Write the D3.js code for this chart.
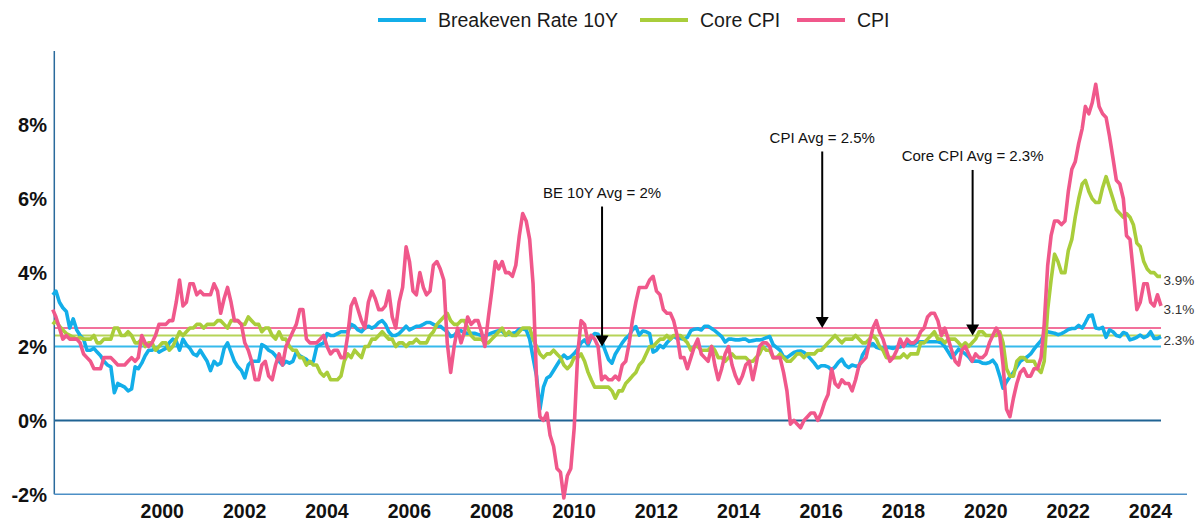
<!DOCTYPE html>
<html>
<head>
<meta charset="utf-8">
<script src="https://cdn.jsdelivr.net/npm/d3@7"></script>
<style>
body { margin: 0; background: #fff; }
svg text { font-family: "Liberation Sans", Arial, sans-serif; }
</style>
</head>
<body>
<div id="chart"></div>
<script>
var width = 1195, height = 520;

// monthly values, Feb 1997 .. Jan 2024 (% y/y)
var firstMonth = new Date(1997, 1, 1);

var beRate = [
  3.4, 3.5, 3.2, 3.05, 2.95, 2.5, 2.75, 2.45, 2.3, 2.2, 1.9,            // 1997
  1.9, 1.95, 1.85, 1.75, 1.6, 1.5, 1.45, 0.75, 1.0, 0.95, 0.9, 0.8,     // 1998
  0.85, 1.45, 1.4, 1.55, 1.75, 1.9, 1.9, 1.95, 1.85, 1.9, 1.95, 2.1,    // 1999
  2.2, 2.15, 1.9, 2.2, 2.05, 1.95, 1.8, 1.75, 1.9, 1.75, 1.6, 1.35,     // 2000
  1.6, 1.5, 1.55, 1.95, 2.1, 1.85, 1.6, 1.45, 1.35, 1.15, 1.5, 1.6,     // 2001
  1.6, 1.6, 2.05, 2.0, 1.9, 1.85, 1.75, 1.6, 1.5, 1.6, 1.55, 1.6,       // 2002
  1.85, 1.75, 1.7, 1.65, 1.55, 1.6, 2.0, 2.05, 2.1, 2.35, 2.3, 2.3,     // 2003
  2.35, 2.4, 2.4, 2.4, 2.6, 2.55, 2.45, 2.4, 2.5, 2.55, 2.5, 2.55,      // 2004
  2.65, 2.7, 2.6, 2.4, 2.3, 2.3, 2.35, 2.45, 2.55, 2.45, 2.5, 2.55,     // 2005
  2.55, 2.6, 2.65, 2.65, 2.6, 2.55, 2.55, 2.47, 2.4, 2.27, 2.3, 2.4,    // 2006
  2.43, 2.37, 2.36, 2.36, 2.36, 2.33, 2.3, 2.27, 2.33, 2.37, 2.4, 2.43, // 2007
  2.42, 2.31, 2.35, 2.36, 2.38, 2.47, 2.48, 2.45, 2.2, 1.7, 1.2, 0.3,   // 2008
  0.9, 1.15, 1.2, 1.35, 1.5, 1.65, 1.77, 1.68, 1.72, 1.81, 1.93, 2.1,   // 2009
  2.18, 2.04, 2.25, 2.35, 2.33, 2.15, 1.9, 1.65, 1.55, 1.8, 1.95, 2.1,  // 2010
  2.22, 2.3, 2.45, 2.54, 2.31, 2.42, 2.4, 2.35, 1.85, 1.9, 2.03, 1.97,  // 2011
  2.1, 2.2, 2.28, 2.22, 2.22, 2.2, 2.25, 2.43, 2.47, 2.48, 2.45, 2.55,  // 2012
  2.55, 2.49, 2.43, 2.35, 2.27, 2.12, 2.2, 2.2, 2.18, 2.18, 2.2, 2.2,   // 2013
  2.14, 2.16, 2.18, 2.18, 2.2, 2.24, 2.27, 2.05, 1.97, 1.9, 1.72, 1.7,  // 2014
  1.77, 1.84, 1.87, 1.88, 1.84, 1.76, 1.66, 1.55, 1.42, 1.48, 1.48, 1.45, // 2015
  1.37, 1.45, 1.57, 1.66, 1.5, 1.43, 1.5, 1.47, 1.47, 1.77, 1.92, 2.03, // 2016
  2.08, 1.98, 1.95, 1.95, 1.98, 1.97, 1.95, 1.98, 1.99, 2.03, 2.08, 2.06, // 2017
  2.06, 2.12, 2.13, 2.13, 2.13, 2.13, 2.13, 2.13, 2.1, 2.0, 1.85, 1.7,  // 2018
  1.8, 1.93, 1.87, 1.8, 1.72, 1.6, 1.61, 1.6, 1.55, 1.54, 1.57, 1.63,   // 2019
  1.5, 1.2, 0.87, 1.05, 1.18, 1.3, 1.45, 1.6, 1.66, 1.72, 1.8, 1.93,    // 2020
  2.05, 2.16, 2.33, 2.4, 2.38, 2.36, 2.32, 2.35, 2.4, 2.46, 2.49, 2.49, // 2021
  2.57, 2.5, 2.65, 2.83, 2.85, 2.5, 2.48, 2.52, 2.25, 2.45, 2.4, 2.3,   // 2022
  2.27, 2.38, 2.35, 2.18, 2.21, 2.25, 2.31, 2.24, 2.28, 2.4, 2.22, 2.22, // 2023
  2.27                                                                  // 2024
];

var coreCpi = [
  2.6, 2.7, 2.55, 2.45, 2.35, 2.3, 2.25, 2.2, 2.25, 2.2, 2.2,           // 1997
  2.2, 2.3, 2.1, 2.1, 2.2, 2.2, 2.2, 2.5, 2.5, 2.3, 2.3, 2.4,           // 1998
  2.3, 2.1, 2.1, 2.2, 2.0, 2.1, 2.1, 1.9, 2.0, 2.1, 2.1, 1.9,           // 1999
  2.0, 2.2, 2.4, 2.3, 2.4, 2.5, 2.5, 2.6, 2.6, 2.5, 2.6, 2.6,           // 2000
  2.6, 2.7, 2.7, 2.6, 2.5, 2.7, 2.7, 2.7, 2.6, 2.6, 2.8, 2.7,           // 2001
  2.6, 2.6, 2.4, 2.5, 2.5, 2.3, 2.2, 2.4, 2.2, 2.2, 2.0, 1.9,           // 2002
  1.9, 1.7, 1.7, 1.5, 1.6, 1.5, 1.5, 1.3, 1.2, 1.3, 1.1, 1.1,           // 2003
  1.1, 1.2, 1.6, 1.8, 1.7, 1.9, 1.8, 1.7, 2.0, 2.0, 2.2, 2.2,           // 2004
  2.3, 2.4, 2.3, 2.2, 2.2, 2.0, 2.1, 2.1, 2.0, 2.1, 2.1, 2.2,           // 2005
  2.1, 2.1, 2.1, 2.3, 2.4, 2.6, 2.7, 2.8, 2.9, 2.7, 2.6, 2.6,           // 2006
  2.7, 2.7, 2.5, 2.3, 2.2, 2.2, 2.2, 2.1, 2.1, 2.2, 2.3, 2.4,           // 2007
  2.5, 2.3, 2.4, 2.3, 2.3, 2.4, 2.5, 2.5, 2.5, 2.2, 2.0, 1.8,           // 2008
  1.7, 1.8, 1.8, 1.9, 1.8, 1.7, 1.5, 1.4, 1.5, 1.7, 1.7, 1.8,           // 2009
  1.6, 1.3, 1.1, 0.9, 0.9, 0.9, 0.9, 0.9, 0.8, 0.6, 0.8, 0.8,           // 2010
  1.0, 1.1, 1.2, 1.3, 1.5, 1.6, 1.8, 2.0, 2.0, 2.1, 2.2, 2.2,           // 2011
  2.3, 2.2, 2.3, 2.3, 2.3, 2.2, 2.1, 1.9, 2.0, 2.0, 1.9, 1.9,           // 2012
  1.9, 2.0, 1.9, 1.7, 1.7, 1.6, 1.7, 1.8, 1.7, 1.7, 1.7, 1.7,           // 2013
  1.6, 1.6, 1.7, 1.8, 2.0, 1.9, 1.9, 1.7, 1.7, 1.8, 1.7, 1.6,           // 2014
  1.6, 1.7, 1.8, 1.8, 1.7, 1.8, 1.8, 1.8, 1.9, 1.9, 2.0, 2.1,           // 2015
  2.2, 2.3, 2.2, 2.1, 2.2, 2.2, 2.2, 2.3, 2.2, 2.1, 2.1, 2.2,           // 2016
  2.3, 2.2, 2.0, 1.9, 1.7, 1.7, 1.7, 1.7, 1.7, 1.8, 1.7, 1.8,           // 2017
  1.8, 1.8, 2.1, 2.1, 2.2, 2.3, 2.4, 2.2, 2.2, 2.1, 2.2, 2.2,           // 2018
  2.2, 2.1, 2.0, 2.1, 2.0, 2.1, 2.2, 2.4, 2.4, 2.3, 2.3, 2.3,           // 2019
  2.3, 2.4, 2.1, 1.4, 1.2, 1.2, 1.6, 1.7, 1.7, 1.6, 1.6, 1.6,           // 2020
  1.4, 1.3, 1.6, 3.0, 3.8, 4.5, 4.3, 4.0, 4.0, 4.6, 4.9, 5.5,           // 2021
  6.0, 6.4, 6.5, 6.2, 6.0, 5.9, 5.9, 6.3, 6.6, 6.3, 6.0, 5.7,           // 2022
  5.6, 5.5, 5.6, 5.5, 5.3, 4.8, 4.7, 4.3, 4.1, 4.0, 4.0, 3.9,           // 2023
  3.9                                                                   // 2024
];

var cpi = [
  3.0, 2.8, 2.5, 2.2, 2.3, 2.2, 2.2, 2.2, 2.1, 1.8, 1.7,                // 1997
  1.6, 1.4, 1.4, 1.4, 1.7, 1.7, 1.7, 1.6, 1.5, 1.5, 1.5, 1.6,           // 1998
  1.7, 1.6, 1.7, 2.3, 2.1, 2.0, 2.1, 2.3, 2.6, 2.6, 2.6, 2.7,           // 1999
  2.7, 3.2, 3.8, 3.1, 3.2, 3.7, 3.7, 3.4, 3.5, 3.4, 3.4, 3.4,           // 2000
  3.7, 3.5, 2.9, 3.3, 3.6, 3.2, 2.7, 2.7, 2.6, 2.1, 1.9, 1.6,           // 2001
  1.1, 1.1, 1.5, 1.6, 1.2, 1.1, 1.5, 1.8, 1.5, 2.0, 2.2, 2.4,           // 2002
  2.6, 3.0, 3.0, 2.2, 2.1, 2.1, 2.1, 2.2, 2.3, 2.0, 1.8, 1.9,           // 2003
  1.9, 1.7, 1.7, 2.3, 3.1, 3.3, 3.0, 2.7, 2.5, 3.2, 3.5, 3.3,           // 2004
  3.0, 3.0, 3.1, 3.5, 2.8, 2.5, 3.2, 3.6, 4.7, 4.3, 3.5, 3.4,           // 2005
  4.0, 3.6, 3.4, 3.5, 4.2, 4.3, 4.1, 3.8, 2.1, 1.3, 2.0, 2.5,           // 2006
  2.1, 2.4, 2.8, 2.6, 2.7, 2.7, 2.4, 2.0, 2.8, 3.5, 4.3, 4.1,           // 2007
  4.3, 4.0, 4.0, 3.9, 4.2, 5.0, 5.6, 5.4, 4.9, 3.7, 1.1, 0.1,           // 2008
  0.0, 0.2, -0.4, -0.7, -1.3, -1.4, -2.1, -1.5, -1.3, -0.2, 1.8, 2.7,   // 2009
  2.6, 2.1, 2.3, 2.2, 2.0, 1.1, 1.2, 1.1, 1.1, 1.2, 1.1, 1.5,           // 2010
  1.6, 2.1, 2.7, 3.2, 3.6, 3.6, 3.6, 3.8, 3.9, 3.5, 3.4, 3.0,           // 2011
  2.9, 2.9, 2.7, 2.3, 1.7, 1.7, 1.4, 1.7, 2.0, 2.2, 1.8, 1.7,           // 2012
  1.6, 2.0, 1.5, 1.1, 1.4, 1.8, 2.0, 1.5, 1.2, 1.0, 1.2, 1.5,           // 2013
  1.6, 1.1, 1.5, 2.0, 2.1, 2.1, 2.0, 1.7, 1.7, 1.7, 1.3, 0.8,           // 2014
  -0.1, 0.0, -0.1, -0.2, 0.0, 0.1, 0.2, 0.2, 0.0, 0.2, 0.5, 0.7,        // 2015
  1.4, 1.0, 0.9, 1.1, 1.0, 1.0, 0.8, 1.1, 1.5, 1.6, 1.7, 2.1,           // 2016
  2.5, 2.7, 2.4, 2.2, 1.9, 1.6, 1.7, 1.9, 2.2, 2.0, 2.2, 2.1,           // 2017
  2.1, 2.2, 2.4, 2.5, 2.8, 2.9, 2.9, 2.7, 2.3, 2.5, 2.2, 1.9,           // 2018
  1.6, 1.5, 1.9, 2.0, 1.8, 1.6, 1.8, 1.7, 1.7, 1.8, 2.1, 2.3,           // 2019
  2.5, 2.3, 1.5, 0.3, 0.1, 0.6, 1.0, 1.3, 1.4, 1.2, 1.2, 1.4,           // 2020
  1.4, 1.7, 2.6, 4.2, 5.0, 5.4, 5.4, 5.3, 5.4, 6.2, 6.8, 7.0,           // 2021
  7.5, 7.9, 8.5, 8.3, 8.6, 9.1, 8.5, 8.3, 8.2, 7.7, 7.1, 6.5,           // 2022
  6.4, 6.0, 5.0, 4.9, 4.0, 3.0, 3.2, 3.7, 3.7, 3.2, 3.1, 3.4,           // 2023
  3.1                                                                   // 2024
];

var seriesNames = ["Breakeven Rate 10Y", "Core CPI", "CPI"];
var seriesColors = ["#13aee9", "#a9cd3b", "#f0588b"];
var averages = [2.0, 2.3, 2.5];
var endLabels = ["2.3%", "3.9%", "3.1%"];

var yTicks = [-2, 0, 2, 4, 6, 8];
var xTickYears = [2000, 2002, 2004, 2006, 2008, 2010, 2012, 2014, 2016, 2018, 2020, 2022, 2024];

// annotation arrows: text, month pointed at, series average, label level / line top (in %)
var noteText = ["BE 10Y Avg = 2%", "CPI Avg = 2.5%", "Core CPI Avg = 2.3%"];
var noteDate = [new Date(2010, 5, 5), new Date(2015, 9, 10), new Date(2019, 5, 5)];
var noteAvg = [2.0, 2.5, 2.3];
var noteLabelLevel = [6.16, 7.66, 7.17];
var noteLineTop = [5.79, 7.28, 6.78];

var allSeries = [beRate, coreCpi, cpi].map(function(vals) {
  return vals.map(function(v, i) {
    return { date: d3.timeMonth.offset(firstMonth, i), value: v };
  });
});
var lastDate = allSeries[0][allSeries[0].length - 1].date;

var plotLeft = 54.3, plotTop = 51, plotBottom = 494.3;

var x = d3.scaleTime()
  .domain([new Date(1997, 0, 1), lastDate])
  .range([49.3, 1161]);
var y = d3.scaleLinear().domain([-2, 10]).range([plotBottom, plotTop]);

var svg = d3.select("#chart").append("svg")
  .attr("width", width)
  .attr("height", height);

// average lines
svg.selectAll(".avg")
  .data(averages)
  .enter()
  .append("line")
  .attr("class", "avg")
  .attr("x1", plotLeft)
  .attr("x2", x(lastDate))
  .attr("y1", function(d) { return y(d); })
  .attr("y2", function(d) { return y(d); })
  .attr("stroke", function(d, i) { return seriesColors[i]; })
  .attr("stroke-opacity", 0.85)
  .attr("stroke-width", 2);

// zero line
svg.append("line")
  .attr("x1", plotLeft).attr("x2", x(lastDate))
  .attr("y1", y(0)).attr("y2", y(0))
  .attr("stroke", "#1f6393")
  .attr("stroke-width", 2);

// axes
svg.append("line")
  .attr("x1", plotLeft).attr("x2", plotLeft)
  .attr("y1", plotTop).attr("y2", plotBottom)
  .attr("stroke", "#2a6a9c")
  .attr("stroke-width", 1.5);
svg.append("line")
  .attr("x1", plotLeft).attr("x2", 1187)
  .attr("y1", plotBottom).attr("y2", plotBottom)
  .attr("stroke", "#4d8fc6")
  .attr("stroke-width", 1.5);

svg.selectAll(".ylab")
  .data(yTicks)
  .enter()
  .append("text")
  .attr("class", "ylab")
  .attr("x", 47)
  .attr("y", function(d) { return y(d); })
  .attr("dy", "0.36em")
  .attr("text-anchor", "end")
  .attr("font-size", "20px")
  .attr("font-weight", "bold")
  .attr("fill", "#111")
  .text(function(d) { return d + "%"; });

svg.selectAll(".xlab")
  .data(xTickYears)
  .enter()
  .append("text")
  .attr("class", "xlab")
  .attr("x", function(d) { return x(new Date(d, 0, 1)) - 10.5; })
  .attr("y", 517.5)
  .attr("text-anchor", "middle")
  .attr("font-size", "19.5px")
  .attr("font-weight", "bold")
  .attr("fill", "#111")
  .text(function(d) { return d; });

// series lines
var line = d3.line()
  .x(function(d) { return x(d.date); })
  .y(function(d) { return y(d.value); });

svg.selectAll(".series")
  .data(allSeries)
  .enter()
  .append("path")
  .attr("class", "series")
  .attr("d", line)
  .attr("fill", "none")
  .attr("stroke", function(d, i) { return seriesColors[i]; })
  .attr("stroke-width", 3.6)
  .attr("stroke-linejoin", "round");

// end-of-series labels
svg.selectAll(".endlab")
  .data(allSeries)
  .enter()
  .append("text")
  .attr("class", "endlab")
  .attr("x", x(lastDate) + 2.5)
  .attr("y", function(d) { return y(d[d.length - 1].value) + 3.5; })
  .attr("dy", "0.35em")
  .attr("font-size", "13.5px")
  .attr("fill", "#333")
  .text(function(d, i) { return endLabels[i]; });

// annotations
noteText.forEach(function(t, i) {
  var ax = x(noteDate[i]);
  var tip = y(noteAvg[i]);
  svg.append("line")
    .attr("x1", ax).attr("x2", ax)
    .attr("y1", y(noteLineTop[i])).attr("y2", tip - 9)
    .attr("stroke", "#000")
    .attr("stroke-width", 2);
  svg.append("path")
    .attr("d", "M" + (ax - 6.5) + "," + (tip - 11) + "L" + (ax + 6.5) + "," + (tip - 11) + "L" + ax + "," + tip + "Z")
    .attr("fill", "#000");
  svg.append("text")
    .attr("x", ax)
    .attr("y", y(noteLabelLevel[i]))
    .attr("dy", "0.35em")
    .attr("text-anchor", "middle")
    .attr("font-size", "15px")
    .attr("fill", "#111")
    .text(t);
});

// legend
var legendX = [378, 640, 797];
var legend = svg.selectAll(".legend")
  .data(seriesNames)
  .enter()
  .append("g")
  .attr("class", "legend")
  .attr("transform", function(d, i) { return "translate(" + legendX[i] + ",20)"; });
legend.append("line")
  .attr("x1", 0).attr("x2", 48)
  .attr("stroke", function(d, i) { return seriesColors[i]; })
  .attr("stroke-width", 4);
legend.append("text")
  .attr("x", 60)
  .attr("dy", "0.35em")
  .attr("font-size", "19.5px")
  .attr("fill", "#1a1a1a")
  .text(function(d) { return d; });
</script>
</body>
</html>
